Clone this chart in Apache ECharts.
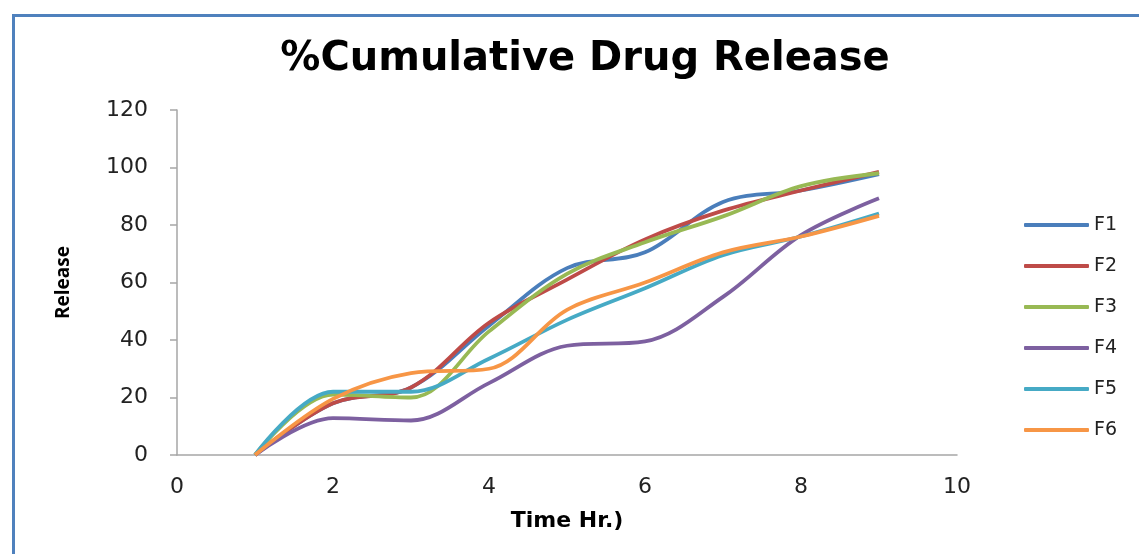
<!DOCTYPE html>
<html>
<head>
<meta charset="utf-8">
<script src="https://cdn.jsdelivr.net/npm/echarts@6/dist/echarts.min.js"></script>
<style>html,body{margin:0;padding:0;background:#fff}#c{width:1139px;height:554px}</style>
</head>
<body>
<div id="c"></div>
<script>
var time = [1, 2, 3, 4, 5, 6, 7, 8, 9];
var F1 = [0, 18, 23.5, 45, 65, 70.5, 88, 92, 97.7];
var F2 = [0, 18, 23.5, 46, 61, 75, 85, 92, 98.5];
var F3 = [0, 21, 20, 43, 63, 74, 83, 93.5, 98];
var F4 = [0, 12.8, 12, 25, 38, 39.5, 55, 76.5, 89.3];
var F5 = [0, 22, 22, 33.5, 47, 58, 69.5, 76, 84];
var F6 = [0, 19.5, 28.5, 30, 50.5, 60, 70.5, 76, 83.2];
var names = ['F1', 'F2', 'F3', 'F4', 'F5', 'F6'];
var colors = ['#4a7ebb', '#be4b48', '#98b954', '#7d60a0', '#46aac5', '#f79646'];
var xTicks = [0, 2, 4, 6, 8, 10];
var yTicks = [0, 20, 40, 60, 80, 100, 120];

var all = [F1, F2, F3, F4, F5, F6];
var series = all.map(function (vals, i) {
  return {
    name: names[i], type: 'line', smooth: 0.35, symbol: 'none',
    data: vals.map(function (v, j) { return [time[j], v]; }),
    lineStyle: { width: 3.8, color: colors[i] }, itemStyle: { color: colors[i] }
  };
});
var chart = echarts.init(document.getElementById('c'), null, { renderer: 'canvas' });
chart.setOption({
  animation: false,
  backgroundColor: '#fff',
  color: colors,
  title: {
    text: '%Cumulative Drug Release', left: 580, top: 35, textAlign: 'center',
    textStyle: { fontFamily: 'DejaVu Sans', fontWeight: 'bold', fontSize: 40, color: '#000' }
  },
  graphic: [{
    type: 'rect', shape: { x: 13.5, y: 15.5, width: 1200, height: 600 },
    style: { fill: 'none', stroke: '#4f81bd', lineWidth: 3 }, silent: true
  }],
  legend: {
    orient: 'vertical', left: 1019, top: 210, itemGap: 21, itemWidth: 65, itemHeight: 4,
    icon: 'roundRect',
    data: names,
    textStyle: { fontFamily: 'DejaVu Sans', fontSize: 19, lineHeight: 20, color: '#222' }
  },
  grid: { left: 177, right: 182, top: 110, bottom: 99 },
  xAxis: {
    type: 'value', min: 0, max: 10, interval: 2,
    name: 'Time Hr.)', nameLocation: 'middle', nameGap: 55,
    nameTextStyle: { fontFamily: 'DejaVu Sans', fontWeight: 'bold', fontSize: 22, color: '#000' },
    axisLine: { show: true, lineStyle: { color: '#a6a6a6', width: 1.5 } },
    axisTick: { show: false },
    splitLine: { show: false },
    axisLabel: { fontFamily: 'DejaVu Sans', fontSize: 22, color: '#222', margin: 21,
      formatter: function (v) { return xTicks.indexOf(v) >= 0 ? String(v) : ''; } }
  },
  yAxis: {
    type: 'value', min: 0, max: 120, interval: 20,
    name: 'Release', nameLocation: 'middle', nameGap: 104, nameRotate: 90,
    nameTextStyle: { fontFamily: 'Open Sans', fontWeight: 'bold', fontSize: 19, color: '#000' },
    axisLine: { show: true, lineStyle: { color: '#a6a6a6', width: 1.5 } },
    axisTick: { show: true, length: 7, lineStyle: { color: '#a6a6a6', width: 1.5 } },
    splitLine: { show: false },
    axisLabel: { fontFamily: 'DejaVu Sans', fontSize: 22, color: '#222', margin: 29,
      formatter: function (v) { return yTicks.indexOf(v) >= 0 ? String(v) : ''; } }
  },
  series: series
});
</script>
</body>
</html>
